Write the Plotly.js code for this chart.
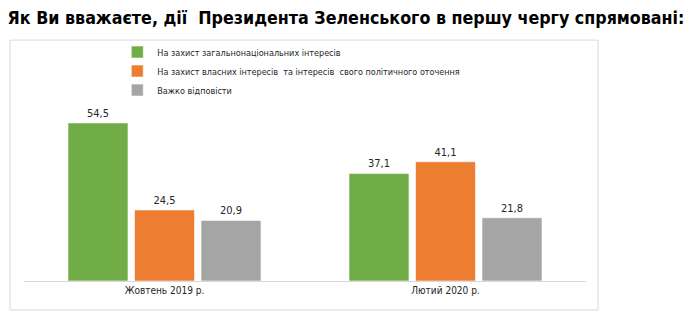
<!DOCTYPE html>
<html><head><meta charset="utf-8">
<script src="https://cdn.plot.ly/plotly-3.0.1.min.js"></script>
<style>html,body{margin:0;padding:0;background:#fff}#chart{width:690px;height:321px}</style>
</head><body><div id="chart"></div>
<script>
const categories = ["Жовтень 2019 р.", "Лютий 2020 р."];
const seriesNames = ["На захист загальнонаціональних інтересів", "На захист власних інтересів  та інтересів  свого політичного оточення", "Важко відповісти"];
const national = [54.5, 37.1];
const own = [24.5, 41.1];
const hard = [20.9, 21.8];
const colors = ["#70AD47", "#ED7D31", "#A5A5A5"];
const FONT = "DejaVu Sans Condensed, Liberation Sans Narrow, sans-serif";
const fmt = v => v.toFixed(1).replace('.', ',');
const vals = [national, own, hard];
const traces = vals.map((v, i) => ({
  type: 'bar', name: seriesNames[i], x: categories, y: v,
  marker: {color: colors[i], line: {color: 'rgba(255,255,255,0.6)', width: 1}},
  text: v.map(fmt), textposition: 'outside', cliponaxis: false,
  textfont: {family: FONT, size: 11, color: '#262626'}, hoverinfo: 'none'
}));
const layout = {
  width: 690, height: 321,
  margin: {l: 24, r: 104, t: 100, b: 40},
  paper_bgcolor: '#fff', plot_bgcolor: '#fff',
  font: {family: FONT, size: 10, color: '#262626'},
  title: {text: '<b>Як Ви вважаєте, дії  Президента Зеленського в першу чергу спрямовані:</b>',
    x: 0.011, xanchor: 'left', xref: 'container', y: 0.945, yanchor: 'middle', yref: 'container',
    font: {family: FONT, size: 17.7, color: '#000'}},
  barmode: 'group', bargap: 0.29, bargroupgap: 0.098,
  xaxis: {showline: true, linecolor: '#d9d9d9', linewidth: 1, ticks: '', showgrid: false,
    tickfont: {family: FONT, size: 10, color: '#262626'}, fixedrange: true},
  yaxis: {range: [0, 62.4], visible: false, showgrid: false, zeroline: false, fixedrange: true},
  showlegend: true,
  legend: {x: 0.166, xanchor: 'left', y: 1.345, yanchor: 'top', orientation: 'v',
    font: {family: FONT, size: 9, color: '#262626'}, itemwidth: 30, tracegroupgap: 0,
    bgcolor: 'rgba(0,0,0,0)'},
  shapes: [{type: 'rect', xref: 'paper', yref: 'paper', x0: -0.0249, x1: 1.0214, y0: -0.160, y1: 1.331,
    line: {color: '#d9d9d9', width: 1}, fillcolor: 'rgba(0,0,0,0)', layer: 'below'}]
};
Plotly.newPlot('chart', traces, layout, {staticPlot: true, displayModeBar: false});
</script></body></html>
